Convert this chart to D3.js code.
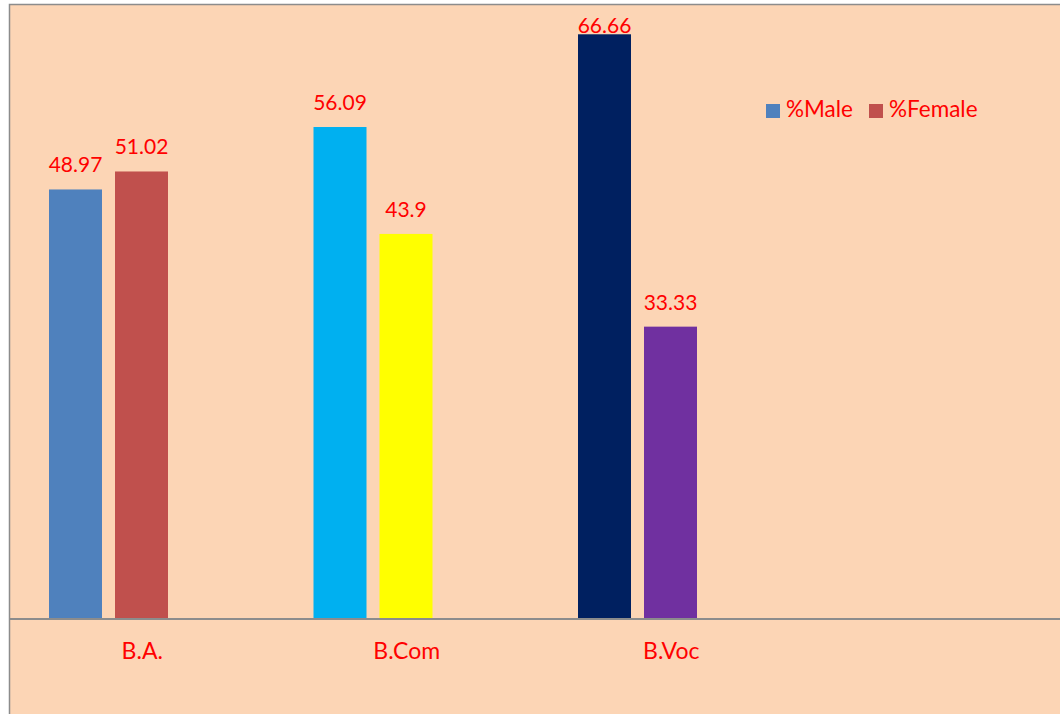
<!DOCTYPE html>
<html>
<head>
<meta charset="utf-8">
<script src="https://cdn.jsdelivr.net/npm/d3@7"></script>
<style>
  body { margin: 0; background: #fff; }
  svg { display: block; }
</style>
</head>
<body>
<div id="chart"></div>
<script>
// data
const categories = ["B.A.", "B.Com", "B.Voc"];
const maleValues = [48.97, 56.09, 66.66];
const femaleValues = [51.02, 43.9, 33.33];
const maleColors = ["#4F81BD", "#00B0F0", "#002060"];
const femaleColors = ["#C0504D", "#FFFF00", "#7030A0"];
const legendLabels = ["%Male", "%Female"];
const legendColors = ["#4F81BD", "#C0504D"];

const W = 1060, H = 714;
const bg = "#FCD5B5";
const red = "#FF0000";
const font = "Lato, 'Open Sans', sans-serif";

var svg = d3.select("#chart").append("svg")
    .attr("width", W)
    .attr("height", H);

// chart area with frame (right/bottom run off the page)
svg.append("rect")
    .attr("x", 9.5).attr("y", 4.5)
    .attr("width", W).attr("height", H)
    .attr("fill", bg)
    .attr("stroke", "#8c8c8c")
    .attr("stroke-width", 1.5);

// 4 slots, the last one is empty like in the original sheet
var x = d3.scaleBand()
    .domain(categories.concat([""]))
    .range([10, 1068]);

// 3 series slots per category, the third one is empty
var xs = d3.scaleBand()
    .domain([0, 1, 2])
    .range([39, 224])
    .paddingInner(13 / 66);

var y = d3.scaleLinear()
    .domain([0, 70])
    .range([619, 5]);

var rows = categories.map((c, i) => [
    { cat: c, s: 0, v: maleValues[i], col: maleColors[i] },
    { cat: c, s: 1, v: femaleValues[i], col: femaleColors[i] }
]).flat();

svg.selectAll("rect.bar")
    .data(rows).enter()
    .append("rect")
    .attr("class", "bar")
    .attr("x", d => x(d.cat) + xs(d.s))
    .attr("y", d => y(d.v))
    .attr("width", xs.bandwidth())
    .attr("height", d => y(0) - y(d.v))
    .attr("fill", d => d.col);

svg.selectAll("text.val")
    .data(rows).enter()
    .append("text")
    .attr("class", "val")
    .attr("x", d => x(d.cat) + xs(d.s) + xs.bandwidth() / 2)
    .attr("y", d => Math.max(y(d.v) - 17, 33))
    .attr("text-anchor", "middle")
    .style("font-family", font)
    .style("font-size", "21px")
    .attr("fill", red)
    .text(d => d.v);

// category axis
var xAxis = svg.append("g")
    .attr("transform", `translate(0, ${y(0)})`)
    .call(d3.axisBottom(x).tickSize(0).tickPadding(24));
xAxis.select(".domain")
    .attr("stroke", "#8c8c8c")
    .attr("stroke-width", 2)
    .attr("d", "M10,0H1060");
xAxis.selectAll("text")
    .style("font-family", font)
    .style("font-size", "23px")
    .attr("fill", red)
    .attr("dy", "0.71em");

// legend
var lx = [766, 869];
var leg = svg.selectAll("g.leg")
    .data(legendLabels).enter()
    .append("g")
    .attr("class", "leg")
    .attr("transform", (d, i) => `translate(${lx[i]}, 104)`);
leg.append("rect")
    .attr("width", 14).attr("height", 14)
    .attr("fill", (d, i) => legendColors[i]);
leg.append("text")
    .attr("x", 20).attr("y", 13)
    .style("font-family", font)
    .style("font-size", "22.5px")
    .attr("fill", red)
    .text(d => d);
</script>
</body>
</html>
